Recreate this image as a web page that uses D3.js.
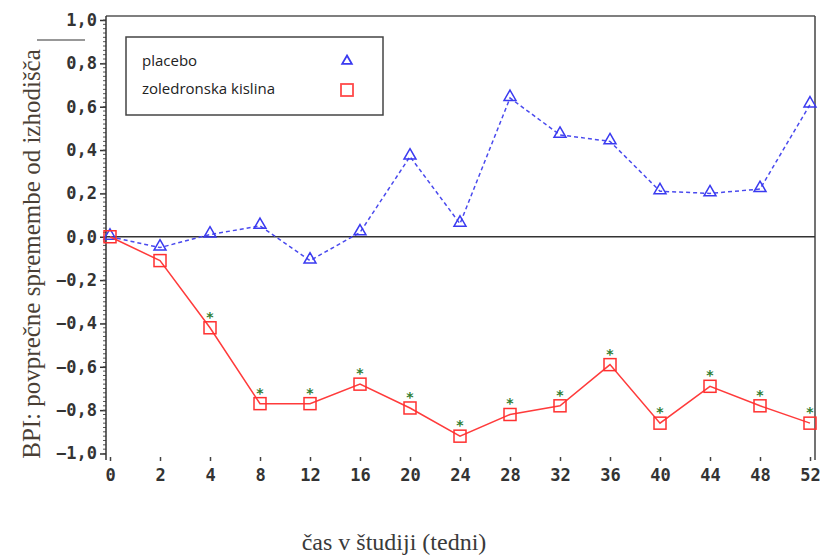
<!DOCTYPE html>
<html>
<head>
<meta charset="utf-8">
<script src="https://cdn.jsdelivr.net/npm/d3@7"></script>
<style>
body { margin: 0; background: #fff; }
svg { display: block; }
</style>
</head>
<body>
<svg id="chart"></svg>
<script>
// weeks on the x axis (categories)
var weeks = [0, 2, 4, 8, 12, 16, 20, 24, 28, 32, 36, 40, 44, 48, 52];
// mean BPI change from baseline
var placebo = [0, -0.05, 0.01, 0.05, -0.11, 0.02, 0.37, 0.06, 0.64, 0.47, 0.44, 0.21, 0.20, 0.22, 0.61];
var zoledronic = [0, -0.11, -0.42, -0.77, -0.77, -0.68, -0.79, -0.92, -0.82, -0.78, -0.59, -0.86, -0.69, -0.78, -0.86];
// weeks marked with a significance star
var starWeeks = [4, 8, 12, 16, 20, 24, 28, 32, 36, 40, 44, 48, 52];
var yTicks = [1.0, 0.8, 0.6, 0.4, 0.2, 0.0, -0.2, -0.4, -0.6, -0.8, -1.0];
var seriesNames = ["placebo", "zoledronska kislina"];

var W = 824, H = 556;
var svg = d3.select("#chart").attr("width", W).attr("height", H);

var xScale = d3.scalePoint().domain(weeks).range([110, 810]);
var yScale = d3.scaleLinear().domain([-1, 1]).range([453.5, 20]);

var fmt = function(v) {
  return d3.format(".1f")(v).replace(".", ",").replace("-", "\u2212");
};

// frame: top and right line
svg.append("line").attr("x1", 106).attr("x2", 815).attr("y1", 16).attr("y2", 16)
  .attr("stroke", "#555").attr("stroke-width", 1.5);
svg.append("line").attr("x1", 815).attr("x2", 815).attr("y1", 16).attr("y2", 460)
  .attr("stroke", "#444").attr("stroke-width", 1.5);

// y axis with minor ticks
var yAxis = d3.axisLeft(yScale).tickValues(yTicks).tickFormat(fmt).tickSize(6).tickPadding(3);
var gy = svg.append("g").attr("transform", "translate(106,0)").call(yAxis);
gy.select(".domain").remove();
gy.selectAll("line").attr("stroke", "#333").attr("stroke-width", 1.5);
gy.selectAll("text").attr("font-family", "DejaVu Sans Mono").attr("font-weight", "bold")
  .attr("font-size", 17).attr("fill", "#333");
var minor = d3.range(-1, 1.0001, 0.02);
svg.append("g").selectAll("line").data(minor).enter().append("line")
  .attr("x1", 103).attr("x2", 106)
  .attr("y1", function(d) { return yScale(d); })
  .attr("y2", function(d) { return yScale(d); })
  .attr("stroke", "#555").attr("stroke-width", 1);
svg.append("line").attr("x1", 106).attr("x2", 106).attr("y1", 16).attr("y2", 460)
  .attr("stroke", "#333").attr("stroke-width", 1.5);

// x axis (ticks and labels only)
var xAxis = d3.axisBottom(xScale).tickSize(4).tickPadding(8);
var gx = svg.append("g").attr("transform", "translate(0,457)").call(xAxis);
gx.select(".domain").remove();
gx.selectAll("line").attr("stroke", "#444").attr("stroke-width", 1.5);
gx.selectAll("text").attr("font-family", "DejaVu Sans Mono").attr("font-weight", "bold")
  .attr("font-size", 17).attr("fill", "#333");

// zero line
svg.append("line").attr("x1", 106).attr("x2", 815)
  .attr("y1", yScale(0)).attr("y2", yScale(0))
  .attr("stroke", "#333").attr("stroke-width", 1.5);

// placebo series
var line = d3.line()
  .x(function(d, i) { return xScale(weeks[i]); })
  .y(function(d) { return yScale(d); });

svg.append("path").datum(placebo).attr("d", line)
  .attr("fill", "none").attr("stroke", "#4a4aee").attr("stroke-width", 1.5)
  .attr("stroke-dasharray", "4,3");

var tri = d3.symbol().type(d3.symbolTriangle).size(62);
svg.append("g").selectAll("path").data(placebo).enter().append("path")
  .attr("d", tri)
  .attr("transform", function(d, i) { return "translate(" + xScale(weeks[i]) + "," + (yScale(d) - 1) + ")"; })
  .attr("fill", "none").attr("stroke", "#3a3af0").attr("stroke-width", 1.5);

// zoledronic acid series
svg.append("path").datum(zoledronic).attr("d", line)
  .attr("fill", "none").attr("stroke", "#ff3b3b").attr("stroke-width", 1.5);

svg.append("g").selectAll("rect").data(zoledronic).enter().append("rect")
  .attr("x", function(d, i) { return xScale(weeks[i]) - 6; })
  .attr("y", function(d) { return yScale(d) - 6; })
  .attr("width", 12).attr("height", 12)
  .attr("fill", "none").attr("stroke", "#ff3030").attr("stroke-width", 1.5);

// stars
svg.append("g").selectAll("text").data(starWeeks).enter().append("text")
  .attr("x", function(d) { return xScale(d); })
  .attr("y", function(d) { return yScale(zoledronic[weeks.indexOf(d)]) - 6; })
  .attr("text-anchor", "middle")
  .attr("font-family", "DejaVu Sans").attr("font-weight", "bold")
  .attr("font-size", 14).attr("fill", "#2e7d32")
  .text("*");

// legend
var legend = svg.append("g");
legend.append("rect").attr("x", 126).attr("y", 37).attr("width", 257).attr("height", 78)
  .attr("fill", "#fff").attr("stroke", "#444").attr("stroke-width", 1.5);
legend.selectAll("text").data(seriesNames).enter().append("text")
  .attr("x", 142).attr("y", function(d, i) { return 66 + i * 28; })
  .attr("font-family", "Open Sans").attr("font-size", 15).attr("fill", "#222")
  .text(function(d) { return d; });
legend.append("path").attr("d", d3.symbol().type(d3.symbolTriangle).size(40))
  .attr("transform", "translate(347,61)")
  .attr("fill", "none").attr("stroke", "#3a3af0").attr("stroke-width", 1.8);
legend.append("rect").attr("x", 341).attr("y", 84).attr("width", 12).attr("height", 12)
  .attr("fill", "none").attr("stroke", "#ff4a4a").attr("stroke-width", 1.8);

// axis titles
svg.append("text")
  .attr("transform", "translate(40,254) rotate(-90)")
  .attr("text-anchor", "middle")
  .attr("font-family", "Liberation Serif").attr("font-size", 25).attr("fill", "#4a3f35")
  .text("BPI: povprečne spremembe od izhodišča");
svg.append("line").attr("x1", 37).attr("x2", 85).attr("y1", 40).attr("y2", 40)
  .attr("stroke", "#333").attr("stroke-width", 1.2);

svg.append("text")
  .attr("x", 394).attr("y", 550)
  .attr("text-anchor", "middle")
  .attr("font-family", "Liberation Serif").attr("font-size", 24).attr("fill", "#3a3a3a")
  .text("čas v študiji (tedni)");
</script>
</body>
</html>
